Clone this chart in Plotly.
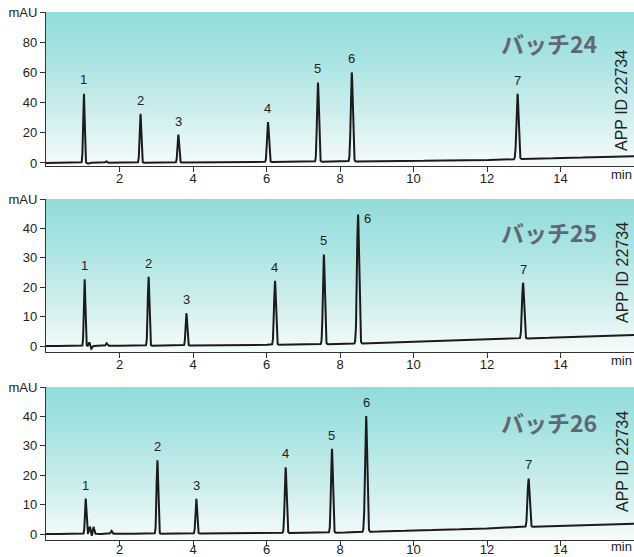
import numpy as np
import plotly.graph_objects as go
from plotly.subplots import make_subplots

# ---------------- data ----------------
batch_names = ["バッチ24", "バッチ25", "バッチ26"]
peak_labels = ["1", "2", "3", "4", "5", "6", "7"]

# retention times (min) of the labelled peaks
rt_24 = [1.03, 2.57, 3.60, 6.04, 7.40, 8.32, 12.83]
rt_25 = [1.05, 2.79, 3.82, 6.23, 7.56, 8.49, 12.98]
rt_26 = [1.08, 3.03, 4.09, 6.52, 7.78, 8.71, 13.13]

# peak heights above baseline (mAU)
h_24 = [46.0, 32.5, 18.5, 26.5, 52.5, 59.0, 43.5]
h_25 = [22.8, 23.5, 11.0, 21.8, 30.5, 44.0, 19.0]
h_26 = [12.0, 25.0, 11.8, 22.3, 28.5, 39.5, 16.5]

# peak widths (sigma, min)
w_24 = [0.020, 0.022, 0.022, 0.025, 0.025, 0.027, 0.028]
w_25 = [0.020, 0.022, 0.022, 0.025, 0.025, 0.028, 0.028]
w_26 = [0.020, 0.022, 0.022, 0.025, 0.025, 0.028, 0.028]

# small unlabelled features (time, height)
minor_t_24 = [1.15, 1.64]
minor_h_24 = [-0.6, 1.0]
minor_t_25 = [1.18, 1.23, 1.65]
minor_h_25 = [1.2, -1.0, 0.9]
minor_t_26 = [1.19, 1.25, 1.29, 1.78]
minor_h_26 = [2.5, -0.8, 2.5, 1.0]

# baseline drift read at these times
base_t = [0, 4, 8, 12, 14, 16]
base_24 = [0.0, 0.3, 0.9, 2.0, 3.2, 4.5]
base_25 = [0.0, 0.2, 0.7, 2.1, 3.0, 3.8]
base_26 = [0.0, 0.2, 0.5, 1.9, 2.8, 3.5]

y_max = [100, 50, 50]
y_ticks = [[0, 20, 40, 60, 80, 100], [0, 10, 20, 30, 40, 50], [0, 10, 20, 30, 40, 50]]
x_ticks = [2, 4, 6, 8, 10, 12, 14]

panels = [
    (rt_24, h_24, w_24, minor_t_24, minor_h_24, base_24),
    (rt_25, h_25, w_25, minor_t_25, minor_h_25, base_25),
    (rt_26, h_26, w_26, minor_t_26, minor_h_26, base_26),
]

# ---------------- figure ----------------
W, H = 634, 557
L = 46
PW = W - L
fig = make_subplots(rows=3, cols=1)
domains = [(12, 166), (199, 352), (387, 540)]  # pixel top/bottom of each panel
standoffs = [-5, -5, -8]

t = np.arange(0, 16.0001, 0.004)
teal_scale = [[0.0, "#f7fbfb"], [0.35, "#cdeeed"], [0.7, "#a9e4e2"], [1.0, "#91dcda"]]
title_color = "#616871"
line_color = "#1b1b1b"
tick_font = dict(family="Liberation Sans, Arial", size=13, color="#222222")

for i, (rt, hh, ww, mt, mh, base) in enumerate(panels):
    row = i + 1
    ymax = y_max[i]
    ax = "" if row == 1 else str(row)
    # gradient background
    fig.add_trace(go.Heatmap(x=[0, 16], y=[-2, ymax], z=[[0, 0], [1, 1]],
                             colorscale=teal_scale, zsmooth="best", showscale=False,
                             hoverinfo="skip", zmin=0, zmax=1), row=row, col=1)
    sig = np.interp(t, base_t, base)
    for r, h, w in zip(rt, hh, ww):
        sig = sig + h * np.exp(-0.5 * ((t - r) / w) ** 2)
    for r, h in zip(mt, mh):
        sig = sig + h * np.exp(-0.5 * ((t - r) / 0.02) ** 2)
    fig.add_trace(go.Scatter(x=t, y=sig, mode="lines",
                             line=dict(color=line_color, width=2),
                             hoverinfo="skip", showlegend=False), row=row, col=1)
    # peak labels
    for k, (r, h) in enumerate(zip(rt, hh)):
        b = np.interp(r, base_t, base)
        if i == 1 and k == 5:
            xshift, yshift = 9, -14
        else:
            xshift, yshift = 0, 4
        fig.add_annotation(x=r, y=h + b, text=peak_labels[k], showarrow=False,
                           xref=f"x{ax}", yref=f"y{ax}",
                           yanchor="bottom", xshift=xshift, yshift=yshift,
                           font=tick_font)
    top_px, bot_px = domains[i]
    d0 = 1 - bot_px / H
    d1 = 1 - top_px / H
    fig.update_layout(**{
        f"xaxis{ax}": dict(domain=[0, 1], range=[0, 16], tickvals=x_ticks,
                           ticks="outside", ticklen=5, tickwidth=1, tickcolor="#333333",
                           showline=True, linecolor="#333333", linewidth=1.2,
                           showgrid=False, zeroline=False, automargin=False,
                           ticklabelstandoff=standoffs[i], tickfont=tick_font),
        f"yaxis{ax}": dict(domain=[d0, d1], range=[-2, ymax], tickvals=y_ticks[i],
                           ticktext=[str(v) for v in y_ticks[i][:-1]] + ["mAU"],
                           ticks="outside", ticklen=5, tickwidth=1, tickcolor="#333333",
                           showline=True, linecolor="#333333", linewidth=1.2,
                           showgrid=False, zeroline=False, automargin=False,
                           tickfont=tick_font),
    })
    # batch title
    fig.add_annotation(x=(549 - L) / PW, y=1 - ((top_px + [31, 33, 35][i]) / H),
                       xref="paper", yref="paper", text=f"<b>{batch_names[i]}</b>",
                       showarrow=False, xanchor="center", yanchor="middle",
                       font=dict(family="Noto Sans CJK JP", size=23, color=title_color))
    # rotated app id
    fig.add_annotation(x=(622 - L) / PW, y=1 - ((top_px + [89, 74, 75][i]) / H),
                       xref="paper", yref="paper",
                       text="APP ID 22734", textangle=-90, showarrow=False,
                       xanchor="center", yanchor="middle",
                       font=dict(family="Liberation Sans, Arial", size=16, color="#222222"))
    # min label
    fig.add_annotation(x=1, y=1 - (bot_px / H), xref="paper", yref="paper", text="min",
                       showarrow=False, xanchor="right", yanchor="top",
                       yshift=1 if i < 2 else 3,
                       font=tick_font)

fig.update_layout(width=W, height=H, margin=dict(l=L, r=0, t=0, b=0),
                  paper_bgcolor="white", plot_bgcolor="white", showlegend=False,
                  template="none")

fig.write_html("out.html")
